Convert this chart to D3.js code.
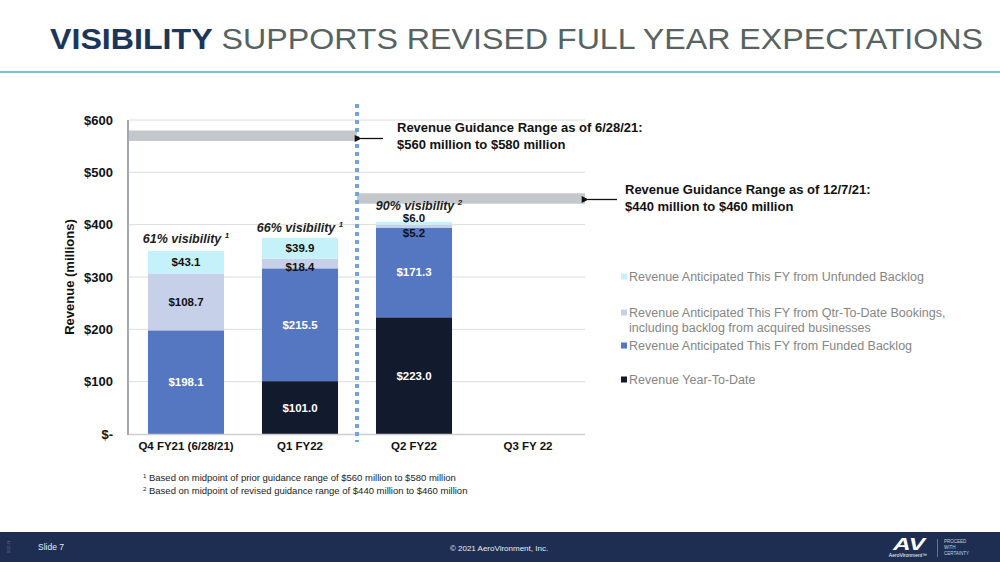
<!DOCTYPE html>
<html><head><meta charset="utf-8">
<script src="https://cdn.jsdelivr.net/npm/d3@7"></script>
<style>body{margin:0;background:#fff}svg{display:block}text{font-family:"Liberation Sans",Arial,sans-serif}</style>
</head><body><svg id="c" width="1000" height="562"></svg>
<script>
const categories = ["Q4 FY21 (6/28/21)", "Q1 FY22", "Q2 FY22", "Q3 FY 22"];
const revenueYTD = [0, 101.0, 223.0, 0];
const fundedBacklog = [198.1, 215.5, 171.3, 0];
const qtdBookings = [108.7, 18.4, 5.2, 0];
const unfundedBacklog = [43.1, 39.9, 6.0, 0];
const visibility = ["61% visibility", "66% visibility", "90% visibility", ""];
const visibilityNote = ["1", "1", "2", ""];
const yTicks = [0, 100, 200, 300, 400, 500, 600];
const guidanceOld = [560, 580];
const guidanceNew = [440, 460];
const seriesNames = ["Revenue Anticipated This FY from Unfunded Backlog",
  "Revenue Anticipated This FY from Qtr-To-Date Bookings,|including backlog from acquired businesses",
  "Revenue Anticipated This FY from Funded Backlog",
  "Revenue Year-To-Date"];

const svg = d3.select("#c");
// Title
const title = svg.append("text").attr("x", 50).attr("y", 49).attr("font-size", 30)
  .attr("textLength", 933).attr("lengthAdjust", "spacingAndGlyphs");
title.append("tspan").attr("font-weight", "bold").attr("fill", "#1c3659").text("VISIBILITY");
title.append("tspan").attr("fill", "#566362").text(" SUPPORTS REVISED FULL YEAR EXPECTATIONS");
svg.append("rect").attr("x", 0).attr("y", 71).attr("width", 1000).attr("height", 2).attr("fill", "#74c3d3");

const x = d3.scaleBand().domain(categories).range([129, 585]).paddingInner(0.333).paddingOuter(0.1665);
const y = d3.scaleLinear().domain([0, 600]).range([434, 120]);

// gridlines
svg.append("g").selectAll("line").data(yTicks.slice(1)).join("line")
  .attr("x1", 129).attr("x2", 585).attr("y1", d => y(d)).attr("y2", d => y(d))
  .attr("stroke", "#dcdcdc").attr("stroke-width", 1);

// y axis labels
const yAxis = svg.append("g").attr("transform", "translate(113,0)")
  .call(d3.axisLeft(y).tickValues(yTicks).tickSize(0).tickFormat(d => d === 0 ? "$-" : "$" + d));
yAxis.select(".domain").remove();
yAxis.selectAll("text").attr("font-size", 13).attr("font-weight", "bold").attr("fill", "#111")
  .attr("font-family", "Liberation Sans, Arial, sans-serif").attr("x", 0);

svg.append("text").attr("transform", "translate(74,277) rotate(-90)").attr("text-anchor", "middle")
  .attr("font-size", 13).attr("font-weight", "bold").attr("fill", "#111").text("Revenue (millions)");

// guidance bands
svg.append("rect").attr("x", 129).attr("width", 357 - 129).attr("y", y(guidanceOld[1])).attr("height", y(guidanceOld[0]) - y(guidanceOld[1])).attr("fill", "#c4c7cc");
svg.append("rect").attr("x", 357).attr("width", 585 - 357).attr("y", y(guidanceNew[1])).attr("height", y(guidanceNew[0]) - y(guidanceNew[1])).attr("fill", "#c4c7cc");

// stacked bars
const rows = categories.map((c, i) => ({cat: c, ytd: revenueYTD[i], funded: fundedBacklog[i], qtd: qtdBookings[i], unfunded: unfundedBacklog[i]}));
const keys = ["ytd", "funded", "qtd", "unfunded"];
const colors = {ytd: "#121a2d", funded: "#5577c1", qtd: "#c6d0e8", unfunded: "#c5f1fa"};
const labelColors = {ytd: "#fff", funded: "#fff", qtd: "#111", unfunded: "#111"};
const stack = d3.stack().keys(keys)(rows);
const gBars = svg.append("g");
stack.forEach(layer => {
  gBars.selectAll(null).data(layer.filter(d => d[1] - d[0] > 0)).join("rect")
    .attr("x", d => x(d.data.cat)).attr("width", x.bandwidth())
    .attr("y", d => y(d[1])).attr("height", d => y(d[0]) - y(d[1]))
    .attr("fill", colors[layer.key]);
});
// bar labels
stack.forEach(layer => {
  layer.forEach(d => {
    const v = d[1] - d[0];
    if (v <= 0) return;
    const h = y(d[0]) - y(d[1]);
    let cy = (y(d[0]) + y(d[1])) / 2;
    if (h < 12) {
      cy = layer.key === "unfunded" ? y(d[1]) - 4 : y(d[1]) + 8;
    }
    svg.append("text").attr("x", x(d.data.cat) + x.bandwidth() / 2).attr("y", cy).attr("dy", "0.35em")
      .attr("text-anchor", "middle").attr("font-size", 11.5).attr("font-weight", "bold")
      .attr("fill", labelColors[layer.key]).text("$" + v.toFixed(1));
  });
});

// baseline & axis line
svg.append("line").attr("x1", 128).attr("x2", 585).attr("y1", 434.5).attr("y2", 434.5).attr("stroke", "#cfcfcf").attr("stroke-width", 1.5);
svg.append("line").attr("x1", 128).attr("x2", 128).attr("y1", 120).attr("y2", 435).attr("stroke", "#a3a8b0").attr("stroke-width", 2);

// x labels
const xAxis = svg.append("g").attr("transform", "translate(0,446)").call(d3.axisBottom(x).tickSize(0));
xAxis.select(".domain").remove();
xAxis.selectAll("text").attr("font-size", 11.5).attr("font-weight", "bold").attr("fill", "#111")
  .attr("font-family", "Liberation Sans, Arial, sans-serif").attr("y", 0).attr("dy", "0.35em");

// visibility labels
rows.forEach((r, i) => {
  if (!visibility[i]) return;
  const tot = r.ytd + r.funded + r.qtd + r.unfunded;
  const offs = [8, 6, 12];
  const dx = [0, 0, 5];
  const t = svg.append("text").attr("x", x(r.cat) + x.bandwidth() / 2 + dx[i]).attr("y", y(tot) - offs[i])
    .attr("text-anchor", "middle").attr("font-size", 12.5).attr("font-weight", "bold").attr("font-style", "italic").attr("fill", "#222");
  t.append("tspan").text(visibility[i] + " ");
  t.append("tspan").attr("font-size", 8).attr("dy", -5).text(visibilityNote[i]);
});

// dotted divider
svg.append("line").attr("x1", 357).attr("x2", 357).attr("y1", 104).attr("y2", 442)
  .attr("stroke", "#6fa6e2").attr("stroke-width", 4).attr("stroke-dasharray", "4,4");

// arrows
svg.append("defs").append("marker").attr("id", "ah").attr("viewBox", "0 0 10 10").attr("refX", 1).attr("refY", 5)
  .attr("markerWidth", 10).attr("markerHeight", 7).attr("orient", "auto-start-reverse").attr("markerUnits", "userSpaceOnUse")
  .append("path").attr("d", "M0,5 L10,0 L10,10 Z").attr("fill", "#111");
svg.append("line").attr("x1", 361).attr("x2", 383).attr("y1", 138.5).attr("y2", 138.5).attr("stroke", "#111").attr("stroke-width", 1.3).attr("marker-start", "url(#ah)");
svg.append("line").attr("x1", 588).attr("x2", 617).attr("y1", 199.5).attr("y2", 199.5).attr("stroke", "#111").attr("stroke-width", 1.3).attr("marker-start", "url(#ah)");

const ann1 = svg.append("text").attr("font-size", 13).attr("font-weight", "bold").attr("fill", "#111");
ann1.append("tspan").attr("x", 397).attr("y", 132).text("Revenue Guidance Range as of 6/28/21:");
ann1.append("tspan").attr("x", 397).attr("y", 149).text("$" + guidanceOld[0] + " million to $" + guidanceOld[1] + " million");
const ann2 = svg.append("text").attr("font-size", 13).attr("font-weight", "bold").attr("fill", "#111");
ann2.append("tspan").attr("x", 625).attr("y", 194).text("Revenue Guidance Range as of 12/7/21:");
ann2.append("tspan").attr("x", 625).attr("y", 211).text("$" + guidanceNew[0] + " million to $" + guidanceNew[1] + " million");

// legend
const legY = [277, 313, 346, 380];
const legColors = [colors.unfunded, colors.qtd, colors.funded, colors.ytd];
seriesNames.forEach((n, i) => {
  svg.append("rect").attr("x", 621).attr("y", legY[i] - 3.5).attr("width", 6).attr("height", 6).attr("fill", legColors[i]);
  const t = svg.append("text").attr("font-size", 12.5).attr("fill", "#858585");
  n.split("|").forEach((line, j) => {
    t.append("tspan").attr("x", 629).attr("y", legY[i] + j * 15).attr("dy", "0.35em").text(line);
  });
});

// footnotes
const fn = [["1", "Based on midpoint of prior guidance range of $560 million to $580 million"],
            ["2", "Based on midpoint of revised guidance range of $440 million to $460 million"]];
fn.forEach((f, i) => {
  const t = svg.append("text").attr("x", 143).attr("y", 481 + i * 12.5).attr("font-size", 9.5).attr("fill", "#222");
  t.append("tspan").attr("font-size", 6).attr("dy", -3).text(f[0]);
  t.append("tspan").attr("dy", 3).text(" " + f[1]);
});

// footer
svg.append("rect").attr("x", 0).attr("y", 532).attr("width", 1000).attr("height", 30).attr("fill", "#1e2e52");
svg.append("text").attr("x", 38).attr("y", 550).attr("font-size", 8.5).attr("fill", "#e8ecf3").text("Slide 7");
svg.append("text").attr("x", 499).attr("y", 551).attr("text-anchor", "middle").attr("font-size", 8).attr("fill", "#e8ecf3").text("© 2021 AeroVironment, Inc.");
svg.append("text").attr("transform", "translate(10,547) rotate(-90)").attr("text-anchor", "middle").attr("font-size", 3.5).attr("fill", "#6a7590").text("0520.21");
svg.append("text").attr("x", 909).attr("y", 550).attr("text-anchor", "middle").attr("font-size", 17).attr("font-weight", "bold").attr("font-style", "italic").attr("fill", "#fff")
  .attr("textLength", 32).attr("lengthAdjust", "spacingAndGlyphs").text("AV");
svg.append("text").attr("x", 908).attr("y", 557).attr("text-anchor", "middle").attr("font-size", 5).attr("fill", "#fff").text("AeroVironment™");
svg.append("line").attr("x1", 937.5).attr("x2", 937.5).attr("y1", 539).attr("y2", 557).attr("stroke", "#7b86a0").attr("stroke-width", 0.8);
["PROCEED", "WITH", "CERTAINTY"].forEach((w, i) => {
  svg.append("text").attr("x", 944).attr("y", 543 + i * 6).attr("font-size", 4.5).attr("fill", "#c8cedb").text(w);
});
</script></body></html>
